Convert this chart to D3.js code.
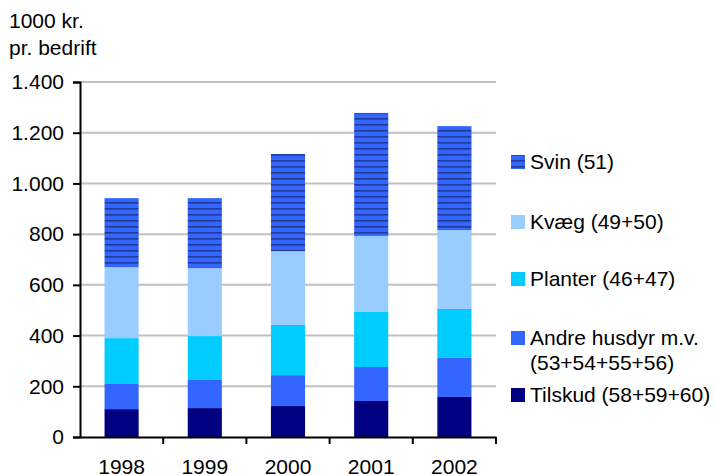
<!DOCTYPE html>
<html>
<head>
<meta charset="utf-8">
<script src="https://cdn.jsdelivr.net/npm/d3@7"></script>
<style>
  body { margin: 0; background: #fff; }
  svg text { font-family: Arial, "Liberation Sans", sans-serif; fill: #000; }
</style>
</head>
<body>
<div id="chart"></div>
<script>
// years and series values (1000 kr. pr. bedrift)
const years = ['1998', '1999', '2000', '2001', '2002'];
const tilskud = [110, 114, 122, 142, 158];
const andre = [99, 111, 122, 134, 154];
const planter = [181, 173, 198, 217, 193];
const kvaeg = [280, 268, 291, 300, 311];
const svin = [272, 276, 383, 485, 410];
const yTicks = [0, 200, 400, 600, 800, 1000, 1200, 1400];

const series = [
  { key: 'tilskud', label: ['Tilskud (58+59+60)'], values: tilskud, color: '#000080' },
  { key: 'andre', label: ['Andre husdyr m.v.', '(53+54+55+56)'], values: andre, color: '#3366ff' },
  { key: 'planter', label: ['Planter (46+47)'], values: planter, color: '#00ccff' },
  { key: 'kvaeg', label: ['Kvæg (49+50)'], values: kvaeg, color: '#99ccff' },
  { key: 'svin', label: ['Svin (51)'], values: svin, color: 'url(#hatch)' }
];

const width = 715, height = 475;
const margin = { left: 80, right: 219, top: 82, bottom: 38 };
const fontSize = '21px';

const svg = d3.select('#chart').append('svg')
  .attr('width', width)
  .attr('height', height);

// horizontal stripe pattern for Svin
const pat = svg.append('defs').append('pattern')
  .attr('id', 'hatch')
  .attr('patternUnits', 'userSpaceOnUse')
  .attr('width', 6).attr('height', 6);
pat.append('rect').attr('width', 6).attr('height', 6).attr('fill', '#3366ff');
pat.append('rect').attr('y', 4).attr('width', 6).attr('height', 1.6).attr('fill', '#1f3a99');

const x = d3.scaleBand()
  .domain(years)
  .range([margin.left, width - margin.right])
  .paddingInner(0.59)
  .paddingOuter(0.295);

const y = d3.scaleLinear()
  .domain([0, 1400])
  .range([height - margin.bottom, margin.top]);

// gridlines
svg.append('g')
  .selectAll('line')
  .data(yTicks.filter(d => d > 0))
  .join('line')
  .attr('x1', margin.left)
  .attr('x2', width - margin.right)
  .attr('y1', d => y(d))
  .attr('y2', d => y(d))
  .attr('stroke', '#c0c0c0')
  .attr('stroke-width', 2);

// stacked bars
const rows = years.map((yr, i) => {
  const r = { year: yr };
  series.forEach(s => { r[s.key] = s.values[i]; });
  return r;
});
const stack = d3.stack().keys(series.map(s => s.key))(rows);

stack.forEach((layer, li) => {
  svg.append('g')
    .attr('fill', series[li].color)
    .selectAll('rect')
    .data(layer)
    .join('rect')
    .attr('x', d => x(d.data.year))
    .attr('width', x.bandwidth())
    .attr('y', d => y(d[1]))
    .attr('height', d => y(d[0]) - y(d[1]));
});

// y axis
const fmt = d3.formatLocale({ decimal: ',', thousands: '.', grouping: [3], currency: ['', ''] }).format(',');
const yAxis = svg.append('g')
  .attr('transform', `translate(${margin.left},0)`)
  .call(d3.axisLeft(y).tickValues(yTicks).tickSize(7).tickPadding(9).tickFormat(fmt));
yAxis.select('.domain').attr('stroke', '#000').attr('stroke-width', 2);
yAxis.selectAll('.tick line').attr('stroke', '#000').attr('stroke-width', 2);
yAxis.selectAll('text').style('font-size', fontSize);

// x axis
const xAxis = svg.append('g')
  .attr('transform', `translate(0,${height - margin.bottom})`)
  .call(d3.axisBottom(x).tickSize(0).tickPadding(22));
xAxis.select('.domain').attr('stroke', '#000').attr('stroke-width', 2);
xAxis.selectAll('text').style('font-size', fontSize);

// ticks between categories
const step = x.step();
xAxis.append('g')
  .selectAll('line')
  .data(years)
  .join('line')
  .attr('x1', d => x(d) + x.bandwidth() / 2 + step / 2)
  .attr('x2', d => x(d) + x.bandwidth() / 2 + step / 2)
  .attr('y1', 0)
  .attr('y2', 7)
  .attr('stroke', '#000')
  .attr('stroke-width', 2);

// unit title
svg.append('text').attr('x', 9).attr('y', 28).style('font-size', fontSize).text('1000 kr.');
svg.append('text').attr('x', 9).attr('y', 55).style('font-size', fontSize).text('pr. bedrift');

// legend (top to bottom: reverse of stack order)
const legendY = [162, 222, 279, 338, 395];
const legendSeries = series.slice().reverse();
const lg = svg.append('g');
legendSeries.forEach((s, i) => {
  const g = lg.append('g').attr('transform', `translate(511,${legendY[i]})`);
  g.append('rect')
    .attr('x', 0).attr('y', -7)
    .attr('width', 14).attr('height', 14)
    .attr('fill', s.color);
  s.label.forEach((t, j) => {
    g.append('text')
      .attr('x', 19)
      .attr('y', j * 25)
      .attr('dy', '0.35em')
      .style('font-size', fontSize)
      .text(t);
  });
});
</script>
</body>
</html>
